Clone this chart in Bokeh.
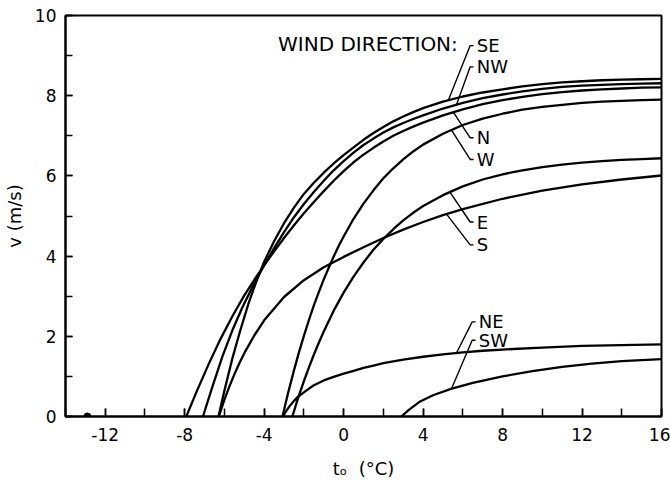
import numpy as np
from bokeh.plotting import figure
from bokeh.models import Range1d, FixedTicker, Label, ColumnDataSource
from bokeh.embed import file_html
from bokeh.resources import INLINE
from bokeh.core.properties import value

FONT = "DejaVu Sans"

# ---- data: outdoor temperature t_o (°C) vs wind speed v (m/s)
t_SE = [-6.3, -6.0, -5.6, -5.2, -4.8, -4.4, -4.0, -3.5, -3.0, -2.5, -2.0, -1.5, -1.0, -0.5, 0, 0.5, 1, 1.5, 2, 2.5,
        3, 3.5, 4, 5, 6, 7, 8, 9, 10, 11, 12, 13, 14, 15, 16]
v_SE = [0, 0.65, 1.45, 2.15, 2.8, 3.36, 3.86, 4.37, 4.82, 5.21, 5.55, 5.83, 6.08, 6.31, 6.52, 6.71, 6.9, 7.07, 7.22, 7.36,
        7.48, 7.59, 7.69, 7.85, 7.98, 8.08, 8.16, 8.23, 8.29, 8.33, 8.36, 8.385, 8.4, 8.41, 8.42]

t_NW = [-7.08, -6.6, -6.1, -5.6, -5.1, -4.6, -4.0, -3.5, -3.0, -2.5, -2.0, -1.5, -1.0, -0.5, 0, 0.5, 1, 1.5, 2, 2.5,
        3, 3.5, 4, 5, 6, 7, 8, 9, 10, 11, 12, 13, 14, 15, 16]
v_NW = [0, 0.75, 1.5, 2.15, 2.72, 3.22, 3.77, 4.2, 4.6, 4.97, 5.3, 5.6, 5.88, 6.14, 6.37, 6.58, 6.77, 6.93, 7.08, 7.21,
        7.32, 7.42, 7.51, 7.68, 7.82, 7.94, 8.03, 8.11, 8.17, 8.22, 8.25, 8.27, 8.29, 8.3, 8.31]

t_N = [-7.92, -7.4, -6.8, -6.2, -5.6, -5.0, -4.4, -4.0, -3.5, -3.0, -2.5, -2.0, -1.5, -1.0, -0.5, 0, 0.5, 1, 1.5, 2,
       2.5, 3, 3.5, 4, 5, 6, 7, 8, 9, 10, 11, 12, 13, 14, 15, 16]
v_N = [0, 0.62, 1.3, 1.93, 2.5, 3.02, 3.48, 3.77, 4.12, 4.45, 4.77, 5.07, 5.35, 5.62, 5.88, 6.12, 6.34, 6.53, 6.7, 6.86,
       7.0, 7.12, 7.23, 7.33, 7.51, 7.66, 7.79, 7.89, 7.97, 8.04, 8.09, 8.13, 8.16, 8.18, 8.2, 8.21]

t_W = [-3.08, -2.8, -2.5, -2.25, -2.0, -1.75, -1.5, -1.25, -1.0, -0.75, -0.5, -0.25, 0, 0.5, 1, 1.5, 2, 2.5, 3, 3.5,
       4, 5, 6, 7, 8, 9, 10, 11, 12, 13, 14, 15, 16]
v_W = [0, 0.58, 1.15, 1.6, 2.01, 2.4, 2.77, 3.1, 3.42, 3.71, 3.99, 4.25, 4.49, 4.93, 5.31, 5.64, 5.94, 6.19, 6.41, 6.61,
       6.78, 7.05, 7.27, 7.43, 7.55, 7.65, 7.72, 7.77, 7.82, 7.85, 7.87, 7.89, 7.9]

t_E = [-2.58, -2.3, -2.0, -1.75, -1.5, -1.25, -1.0, -0.5, 0, 0.5, 1, 1.5, 2, 2.5, 3, 3.5, 4, 5, 6, 7, 8, 9, 10, 11,
       12, 13, 14, 15, 16]
v_E = [0, 0.45, 0.88, 1.22, 1.54, 1.84, 2.12, 2.64, 3.09, 3.49, 3.84, 4.16, 4.43, 4.67, 4.89, 5.08, 5.25, 5.52, 5.74,
       5.91, 6.04, 6.14, 6.22, 6.28, 6.33, 6.37, 6.4, 6.42, 6.44]

t_S = [-6.28, -6.0, -5.75, -5.5, -5.25, -5.0, -4.5, -4.0, -3.0, -2.0, -1.0, 0, 1, 2, 3, 4, 5, 6, 8, 10, 12, 14, 16]
v_S = [0, 0.42, 0.75, 1.05, 1.33, 1.58, 2.02, 2.4, 2.98, 3.4, 3.72, 3.98, 4.22, 4.45, 4.66, 4.85, 5.02, 5.17, 5.43,
       5.63, 5.79, 5.91, 6.01]

t_NE = [-3.05, -2.9, -2.7, -2.5, -2.33, -1.9, -1.5, -1.0, -0.5, 0, 0.5, 1, 1.5, 2, 3, 4, 5, 6, 7, 8, 10, 12, 14, 16]
v_NE = [0, 0.13, 0.27, 0.39, 0.48, 0.64, 0.78, 0.9, 0.99, 1.07, 1.14, 1.21, 1.27, 1.33, 1.42, 1.49, 1.55, 1.6, 1.64,
        1.67, 1.72, 1.76, 1.78, 1.8]

t_SW = [2.9, 3.3, 3.8, 4.5, 5.4, 6.5, 8, 9.5, 11, 12.5, 14, 16]
v_SW = [0, 0.17, 0.36, 0.53, 0.69, 0.84, 1.0, 1.13, 1.24, 1.32, 1.38, 1.43]

directions = ["SE", "NW", "N", "W", "E", "S", "NE", "SW"]
series_t = [t_SE, t_NW, t_N, t_W, t_E, t_S, t_NE, t_SW]
series_v = [v_SE, v_NW, v_N, v_W, v_E, v_S, v_NE, v_SW]

dot_t = [-12.9]
dot_v = [0]

x_major = [-12, -8, -4, 0, 4, 8, 12, 16]
x_minor = [-14, -12, -10, -8, -6, -4, -2, 0, 2, 4, 6, 8, 10, 12, 14, 16]
y_major = [0, 2, 4, 6, 8, 10]
y_minor = [0, 1, 2, 3, 4, 5, 6, 7, 8, 9, 10]

# ---- label layout (positions of the direction labels and where leaders touch the curves)
lab_x = [6.7, 6.7, 6.7, 6.7, 6.7, 6.7, 6.8, 6.8]
lab_y = [9.25, 8.72, 6.95, 6.41, 4.85, 4.28, 2.36, 1.9]
touch_t = [5.27, 5.68, 5.52, 5.43, 5.35, 5.18, 5.68, 5.43]

p = figure(width=670, height=488, output_backend="svg", toolbar_location=None,
           x_range=Range1d(-14, 16), y_range=Range1d(0, 10),
           min_border_left=61, min_border_right=9, min_border_top=15, min_border_bottom=72)
p.background_fill_color = "white"
p.border_fill_color = "white"
p.outline_line_color = "black"
p.outline_line_width = 2
p.xgrid.visible = False
p.ygrid.visible = False

for ax in (p.xaxis[0], p.yaxis[0]):
    ax.axis_line_color = "black"
    ax.axis_line_width = 2
    ax.major_tick_line_color = "black"
    ax.minor_tick_line_color = "black"
    ax.major_tick_line_width = 1.5
    ax.minor_tick_line_width = 1.5
    ax.major_tick_out = 0
    ax.minor_tick_out = 0
    ax.major_label_text_font = FONT
    ax.major_label_text_font_size = "17px"
    ax.major_label_text_color = "black"
    ax.axis_label_text_font = FONT
    ax.axis_label_text_font_size = "18px"
    ax.axis_label_text_font_style = "normal"
    ax.axis_label_text_color = "black"

xa = p.xaxis[0]
xa.ticker = FixedTicker(ticks=x_major, minor_ticks=x_minor)
xa.major_label_overrides = {t: str(t) for t in x_major if t < 0}
xa.major_tick_in = 8
xa.minor_tick_in = 8
xa.major_label_standoff = 11
xa.axis_label = "t\u2092\u00a0\u00a0(\u00b0C)"
xa.axis_label_standoff = 14

ya = p.yaxis[0]
ya.ticker = FixedTicker(ticks=y_major, minor_ticks=y_minor)
ya.major_tick_in = 7
ya.minor_tick_in = 7
ya.major_label_standoff = 9
ya.axis_label = "v (m/s)"
ya.axis_label_standoff = 7

for t, v in zip(series_t, series_v):
    p.line(t, v, line_color="black", line_width=2.3, line_join="round")

p.scatter(dot_t, dot_v, size=7, color="black")

# leaders from labels to the curves
xs, ys = [], []
for lx, ly, tt, t, v in zip(lab_x, lab_y, touch_t, series_t, series_v):
    vy = float(np.interp(tt, t, v))
    xs.append([lx - 0.16, lx - 0.33, tt])
    ys.append([ly, ly, vy])
p.multi_line(xs, ys, line_color="black", line_width=1.4)

src = ColumnDataSource(dict(x=lab_x, y=lab_y, text=directions))
p.text(x="x", y="y", text="text", source=src, text_font=value(FONT),
       text_font_size="18px", text_baseline="middle", text_align="left", text_color="black")

p.add_layout(Label(x=-3.3, y=9.3, text="WIND DIRECTION:", text_font=FONT, text_color="black",
                   text_font_size="20px", text_baseline="middle", text_align="left"))

open("out.html", "w").write(file_html(p, INLINE))
